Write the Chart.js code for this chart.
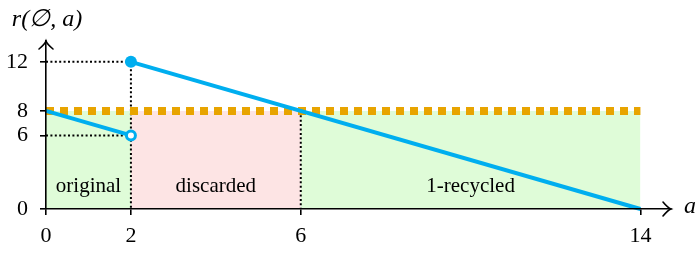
<!DOCTYPE html>
<html>
<head>
<meta charset="utf-8">
<script src="https://cdn.jsdelivr.net/npm/chart.js@4.4.1/dist/chart.umd.min.js"></script>
<style>
  html, body { margin: 0; padding: 0; background: #fff; }
  #wrap { width: 697px; height: 254px; }
</style>
</head>
<body>
<div id="wrap"><canvas id="chart"></canvas></div>
<script>
// values
const xTicks = [0, 2, 6, 14];
const yTicks = [0, 6, 8, 12];
const regionNames = ["original", "discarded", "1-recycled"];
const regionStart = [0, 2, 6];
const regionEnd = [2, 6, 14];
const regionTop = 8;
const regionLabelY = 1.4;
const thresholdX = [0, 14];
const thresholdY = [8, 8];
const beforeX = [0, 2];
const beforeY = [8, 6];
const afterX = [2, 14];
const afterY = [12, 0];

const serif = "'Liberation Serif', 'DejaVu Serif', serif";
const green = "rgb(223, 252, 216)";
const pink = "rgb(253, 228, 228)";
const orange = "rgb(232, 164, 0)";
const blue = "rgb(0, 174, 239)";

const pts = (xs, ys) => xs.map((x, i) => ({ x: x, y: ys[i] }));

const regionSets = regionNames.map((name, i) => ({
  label: name,
  data: [{ x: regionStart[i], y: regionTop }, { x: regionEnd[i], y: regionTop }],
  borderWidth: 0,
  pointRadius: 0,
  fill: "origin",
  backgroundColor: i === 1 ? pink : green,
  order: 10
}));

const dotted = {
  borderColor: "#000",
  borderWidth: 2,
  borderDash: [2, 2.4],
  pointRadius: 0,
  fill: false,
  order: 5
};

const guideSets = [
  Object.assign({ label: "g1", data: [{ x: 0, y: afterY[0] }, { x: afterX[0], y: afterY[0] }, { x: afterX[0], y: 0 }] }, dotted),
  Object.assign({ label: "g2", data: [{ x: 0, y: beforeY[1] }, { x: beforeX[1], y: beforeY[1] }] }, dotted),
  Object.assign({ label: "g3", data: [{ x: regionStart[2], y: regionTop }, { x: regionStart[2], y: 0 }] }, dotted)
];

const regionLabels = {
  id: "regionLabels",
  afterDatasetsDraw(chart) {
    const { ctx, scales } = chart;
    ctx.save();
    ctx.font = "21px " + serif;
    ctx.fillStyle = "#000";
    ctx.textAlign = "center";
    ctx.textBaseline = "alphabetic";
    regionNames.forEach((name, i) => {
      const x = scales.x.getPixelForValue((regionStart[i] + regionEnd[i]) / 2);
      ctx.fillText(name, x, scales.y.getPixelForValue(regionLabelY));
    });
    ctx.restore();
  }
};

const axisArrows = {
  id: "axisArrows",
  afterDraw(chart) {
    const { ctx, chartArea } = chart;
    const l = chartArea.left, b = chartArea.bottom;
    ctx.save();
    ctx.strokeStyle = "#000";
    ctx.lineWidth = 1.6;
    ctx.lineCap = "round";
    // x arrow
    const r = chartArea.right;
    ctx.beginPath();
    ctx.moveTo(r - 8, b - 7);
    ctx.quadraticCurveTo(r - 3, b - 1, r, b);
    ctx.quadraticCurveTo(r - 3, b + 1, r - 8, b + 7);
    ctx.stroke();
    // y arrow
    const t = chartArea.top;
    ctx.beginPath();
    ctx.moveTo(l - 7, t + 8);
    ctx.quadraticCurveTo(l - 1, t + 3, l, t);
    ctx.quadraticCurveTo(l + 1, t + 3, l + 7, t + 8);
    ctx.stroke();
    // axis names
    ctx.fillStyle = "#000";
    ctx.font = "italic 24px " + serif;
    ctx.textAlign = "center";
    ctx.textBaseline = "middle";
    ctx.fillText("r(\u2205, a)", 47, 20);
    ctx.fillText("a", 690, b - 2);
    ctx.restore();
  }
};

new Chart(document.getElementById("chart"), {
  type: "line",
  data: {
    datasets: [
      ...regionSets,
      ...guideSets,
      {
        label: "threshold",
        data: pts(thresholdX, thresholdY),
        borderColor: orange,
        borderWidth: 8,
        borderDash: [8, 6],
        borderCapStyle: "butt",
        pointRadius: 0,
        fill: false,
        order: 4
      },
      {
        label: "before",
        data: pts(beforeX, beforeY),
        borderColor: blue,
        borderWidth: 4,
        pointRadius: [0, 4.5],
        pointBorderWidth: 3,
        pointBorderColor: blue,
        pointBackgroundColor: "#fff",
        fill: false,
        clip: false,
        order: 1
      },
      {
        label: "after",
        data: pts(afterX, afterY),
        borderColor: blue,
        borderWidth: 4,
        pointRadius: [6, 0],
        pointBorderWidth: 0,
        pointBackgroundColor: blue,
        fill: false,
        clip: false,
        order: 2
      }
    ]
  },
  options: {
    responsive: true,
    maintainAspectRatio: false,
    animation: false,
    layout: { padding: { top: 41, right: 26, left: 0, bottom: 0 } },
    plugins: { legend: { display: false }, tooltip: { enabled: false } },
    scales: {
      x: {
        type: "linear",
        min: 0,
        max: 14.72,
        afterBuildTicks: (s) => { s.ticks = xTicks.map((v) => ({ value: v })); },
        afterFit: (s) => { s.height = 45; },
        ticks: { color: "#000", font: { family: serif, size: 22 }, padding: 8, maxRotation: 0 },
        grid: { drawOnChartArea: false, drawTicks: true, tickLength: 6, color: "#000", lineWidth: 1.6 },
        border: { display: true, color: "#000", width: 1.6, z: 1 }
      },
      y: {
        type: "linear",
        min: 0,
        max: 13.7,
        afterBuildTicks: (s) => { s.ticks = yTicks.map((v) => ({ value: v })); },
        afterFit: (s) => { s.width = 46; },
        ticks: { color: "#000", font: { family: serif, size: 22 }, padding: 12 },
        grid: { drawOnChartArea: false, drawTicks: true, tickLength: 6, color: "#000", lineWidth: 1.6 },
        border: { display: true, color: "#000", width: 1.6, z: 1 }
      }
    }
  },
  plugins: [regionLabels, axisArrows]
});
</script>
</body>
</html>
